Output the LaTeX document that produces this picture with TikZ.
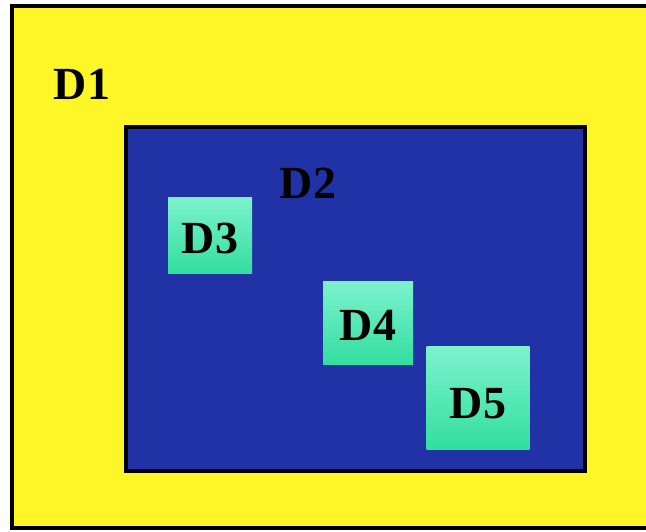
\documentclass[tikz,border=0pt]{standalone}
\usepackage{fontspec}
\setmainfont{Liberation Serif}
\usetikzlibrary{positioning}
\definecolor{dyellow}{RGB}{255,246,40}
\definecolor{dblue}{RGB}{32,50,165}
\definecolor{dgreentop}{RGB}{125,242,205}
\definecolor{dgreenbot}{RGB}{50,222,160}
\tikzset{
  label/.style={font=\fontsize{46}{48}\selectfont\bfseries, text=black, inner sep=0pt},
  subset/.style={top color=dgreentop, bottom color=dgreenbot, draw=none,
    font=\fontsize{46}{48}\selectfont\bfseries, text=black, inner sep=0pt,
    text depth=0pt}
}
\begin{document}
\begin{tikzpicture}[x=1pt, y=-1pt]
  \useasboundingbox (0,0) rectangle (646,531);
  \fill[white] (0,0) rectangle (646,531);
  % outer and inner regions
  \draw[line width=4pt, fill=dyellow] (12,6) rectangle (670,528);
  \draw[line width=3.5pt, fill=dblue] (126,127) rectangle (585,471);
  \node[label] (d1) at (82,84) {D1};
  \node[label] (d2) at (308,183) {D2};
  % nested boxes
  \node[subset, text height=36pt, minimum width=84pt, minimum height=76pt] (d3) at (210,235) {D3};
  \node[subset, text height=34pt, minimum width=90pt, minimum height=83pt] (d4) at (368,323) {D4};
  \node[subset, text height=40pt, minimum width=103pt, minimum height=103pt] (d5) at (478,398) {D5};
\end{tikzpicture}
\end{document}
